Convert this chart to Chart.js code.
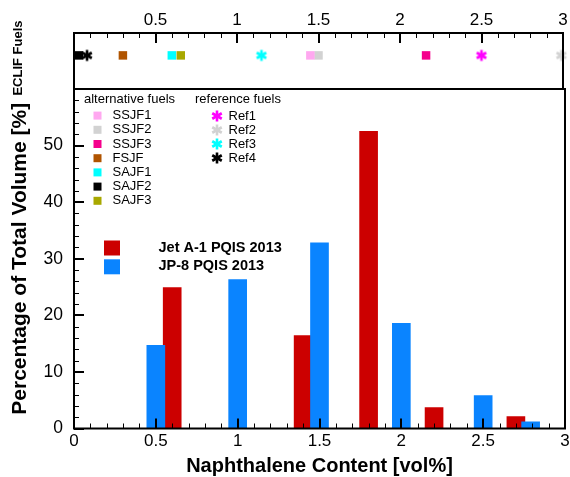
<!DOCTYPE html>
<html>
<head>
<meta charset="utf-8">
<title>Naphthalene Content</title>
<script src="https://cdn.jsdelivr.net/npm/chart.js@4.4.1/dist/chart.umd.min.js"></script>
<style>
    body { margin: 0; background: #fff; }
    #wrap { position: relative; width: 570px; height: 477px; }
    #wrap canvas { position: absolute; left: 0; top: 0; }
</style>
</head>
<body>
<div id="wrap">
    <canvas id="mainChart" width="570" height="477"></canvas>
    <canvas id="stripChart" width="570" height="477"></canvas>
</div>
<script>
/* ================= DATA ================= */

const xTickValues = [0, 0.5, 1, 1.5, 2, 2.5, 3];
const yTickValues = [0, 10, 20, 30, 40, 50, 60];

const jetA1X = [0.6, 1.4, 1.8, 2.2, 2.7];
const jetA1Y = [24.9, 16.4, 52.5, 3.7, 2.1];

const jp8X = [0.5, 1.0, 1.5, 2.0, 2.5, 2.79];
const jp8Y = [14.7, 26.3, 32.8, 18.6, 5.8, 1.2];

const altFuelNames = ["SSJF1", "SSJF2", "SSJF3", "FSJF", "SAJF1", "SAJF2", "SAJF3"];
const altFuelX = [1.45, 1.50, 2.16, 0.30, 0.60, 0.03, 0.655];

const refFuelNames = ["Ref1", "Ref2", "Ref3", "Ref4"];
const refFuelX = [2.50, 2.99, 1.15, 0.08];

const stripLevel = 0.6;

/* ================= STYLE ================= */

const FONT = "'Liberation Sans', Arial, sans-serif";
const RED = "#cc0000";
const BLUE = "#0a84ff";
const altFuelColors = ["#ffa8f0", "#d2d2d2", "#f5008c", "#b05400", "#00ffff", "#000000", "#a8a800"];
const refFuelColors = ["#ff00ff", "#d2d2d2", "#00ffff", "#000000"];

function makeStar(color) {
    const c = document.createElement("canvas");
    c.width = 14;
    c.height = 14;
    const g = c.getContext("2d");
    g.strokeStyle = color;
    g.lineWidth = 2.6;
    const r = 5.5;
    for (let k = 0; k < 3; k++) {
        const a = Math.PI / 2 + k * Math.PI / 3;
        g.beginPath();
        g.moveTo(7 + r * Math.cos(a), 7 + r * Math.sin(a));
        g.lineTo(7 - r * Math.cos(a), 7 - r * Math.sin(a));
        g.stroke();
    }
    return c;
}

const refStars = refFuelColors.map(makeStar);

/* ================= HELPERS ================= */

function points(xs, ys) {
    return xs.map((x, i) => ({ x, y: ys[i] }));
}

function fmt(v) {
    return String(v);
}

// keep the plot edges where the figure has them, labels may hang over
function fixX(height) {
    return s => {
        s.height = height;
        s.paddingLeft = 0;
        s.paddingRight = 0;
    };
}

function drawFrame(chart) {
    const { ctx, chartArea: a } = chart;
    ctx.save();
    ctx.strokeStyle = "#000";
    ctx.lineWidth = 2;
    ctx.strokeRect(a.left, a.top, a.right - a.left, a.bottom - a.top);
    ctx.restore();
}

function drawXTicks(chart, scale, yEdge, dir) {
    const ctx = chart.ctx;
    ctx.save();
    ctx.strokeStyle = "#000";
    for (let i = 0; i <= 30; i++) {
        const major = i % 5 === 0;
        const x = Math.round(scale.getPixelForValue(i / 10)) + (major ? 0 : 0.5);
        ctx.lineWidth = major ? 2 : 1;
        ctx.beginPath();
        ctx.moveTo(x, yEdge);
        ctx.lineTo(x, yEdge + dir * (major ? 10 : 5));
        ctx.stroke();
    }
    ctx.restore();
}

function drawYTicks(chart, scale, xEdge) {
    const ctx = chart.ctx;
    ctx.save();
    ctx.strokeStyle = "#000";
    for (let v = 0; v <= 60; v += 2) {
        const major = v % 10 === 0;
        const y = Math.round(scale.getPixelForValue(v)) + (major ? 0 : 0.5);
        ctx.lineWidth = major ? 2 : 1;
        ctx.beginPath();
        ctx.moveTo(xEdge, y);
        ctx.lineTo(xEdge + (major ? 10 : 5), y);
        ctx.stroke();
    }
    ctx.restore();
}

/* ================= MAIN CHART ================= */

const mainDecor = {
    id: "mainDecor",
    afterDraw(chart) {
        const ctx = chart.ctx;
        const a = chart.chartArea;
        drawXTicks(chart, chart.scales.x, a.bottom, -1);
        drawYTicks(chart, chart.scales.y, a.left);
        drawFrame(chart);

        ctx.save();
        ctx.textBaseline = "middle";
        ctx.fillStyle = "#000";

        // ECLIF legend
        ctx.font = "13px " + FONT;
        ctx.fillText("alternative fuels", 84, 99.5);
        ctx.fillText("reference fuels", 195, 99.5);
        altFuelNames.forEach((name, i) => {
            const y = 115.6 + i * 14.2;
            ctx.fillStyle = altFuelColors[i];
            ctx.fillRect(93.5, y - 4, 8, 8);
            ctx.fillStyle = "#000";
            ctx.fillText(name, 112.5, y);
        });
        refFuelNames.forEach((name, i) => {
            const y = 116 + i * 14;
            ctx.drawImage(refStars[i], 217 - 7, y - 7);
            ctx.fillStyle = "#000";
            ctx.fillText(name, 228.5, y);
        });

        // PQIS legend
        ctx.fillStyle = RED;
        ctx.fillRect(104, 240.5, 16, 15);
        ctx.fillStyle = BLUE;
        ctx.fillRect(104, 259.3, 16, 15);
        ctx.fillStyle = "#000";
        ctx.font = "bold 14.5px " + FONT;
        ctx.fillText("Jet A-1 PQIS 2013", 158.5, 247.5);
        ctx.fillText("JP-8 PQIS 2013", 158.5, 266);
        ctx.restore();
    }
};

new Chart(document.getElementById("mainChart"), {
    type: "bar",
    data: {
        datasets: [
            {
                label: "Jet A-1 PQIS 2013",
                data: points(jetA1X, jetA1Y),
                backgroundColor: RED,
                order: 2
            },
            {
                label: "JP-8 PQIS 2013",
                data: points(jp8X, jp8Y),
                backgroundColor: BLUE,
                order: 1
            }
        ]
    },
    options: {
        responsive: false,
        animation: false,
        events: [],
        layout: { padding: { left: 0, right: 5, top: 89, bottom: 0 } },
        datasets: { bar: { grouped: false, barThickness: 18, borderWidth: 0 } },
        plugins: { legend: { display: false }, tooltip: { enabled: false } },
        scales: {
            x: {
                type: "linear",
                offset: false,
                min: 0,
                max: 3,
                afterBuildTicks: s => { s.ticks = xTickValues.map(value => ({ value })); },
                afterFit: fixX(48.5),
                grid: { display: false, drawTicks: false },
                border: { display: false },
                ticks: {
                    color: "#000",
                    padding: 4,
                    maxRotation: 0,
                    font: { family: FONT, size: 17, lineHeight: 1 },
                    callback: v => fmt(v)
                },
                title: {
                    display: true,
                    text: "Naphthalene Content [vol%]",
                    color: "#000",
                    padding: { top: 0, bottom: 1 },
                    font: { family: FONT, size: 20, weight: "bold", lineHeight: 1 }
                }
            },
            y: {
                min: 0,
                max: 60,
                afterBuildTicks: s => { s.ticks = yTickValues.map(value => ({ value })); },
                afterFit: s => { s.width = 74; },
                grid: { display: false, drawTicks: false },
                border: { display: false },
                ticks: {
                    color: "#000",
                    padding: 11,
                    font: { family: FONT, size: 17.5, lineHeight: 1 },
                    callback: v => (v === 60 ? "" : fmt(v))
                },
                title: {
                    display: true,
                    text: "Percentage of Total Volume [%]",
                    color: "#000",
                    padding: { top: 9.5, bottom: 0 },
                    font: { family: FONT, size: 21, weight: "bold", lineHeight: 1 }
                }
            }
        }
    },
    plugins: [mainDecor]
});

/* ================= ECLIF STRIP ================= */

const stripDecor = {
    id: "stripDecor",
    afterDraw(chart) {
        const ctx = chart.ctx;
        const a = chart.chartArea;
        drawXTicks(chart, chart.scales.x, a.top, 1);
        drawFrame(chart);

        ctx.save();
        ctx.translate(18, 58);
        ctx.rotate(-Math.PI / 2);
        ctx.fillStyle = "#000";
        ctx.textAlign = "center";
        ctx.textBaseline = "middle";
        ctx.font = "bold 13px " + FONT;
        ctx.fillText("ECLIF Fuels", 0, 0);
        ctx.restore();
    }
};

const stripSets = altFuelNames.map((name, i) => ({
    label: name,
    data: [{ x: altFuelX[i], y: stripLevel }],
    pointStyle: "rect",
    radius: 6,
    borderWidth: 0,
    backgroundColor: altFuelColors[i],
    clip: false,
    order: 2
})).concat(refFuelNames.map((name, i) => ({
    label: name,
    data: [{ x: refFuelX[i], y: stripLevel }],
    pointStyle: refStars[i],
    radius: 6,
    clip: false,
    order: 1
})));

new Chart(document.getElementById("stripChart"), {
    type: "scatter",
    data: { datasets: stripSets },
    options: {
        responsive: false,
        animation: false,
        events: [],
        layout: { padding: { left: 74, right: 5, top: 0, bottom: 388 } },
        plugins: { legend: { display: false }, tooltip: { enabled: false } },
        scales: {
            x: {
                type: "linear",
                position: "top",
                min: 0,
                max: 3,
                afterBuildTicks: s => { s.ticks = xTickValues.map(value => ({ value })); },
                afterFit: fixX(33),
                grid: { display: false, drawTicks: false },
                border: { display: false },
                ticks: {
                    color: "#000",
                    padding: 4,
                    maxRotation: 0,
                    font: { family: FONT, size: 17, lineHeight: 1 },
                    callback: v => (v === 0 ? "" : fmt(v))
                }
            },
            y: {
                display: false,
                min: 0,
                max: 1
            }
        }
    },
    plugins: [stripDecor]
});
</script>
</body>
</html>
